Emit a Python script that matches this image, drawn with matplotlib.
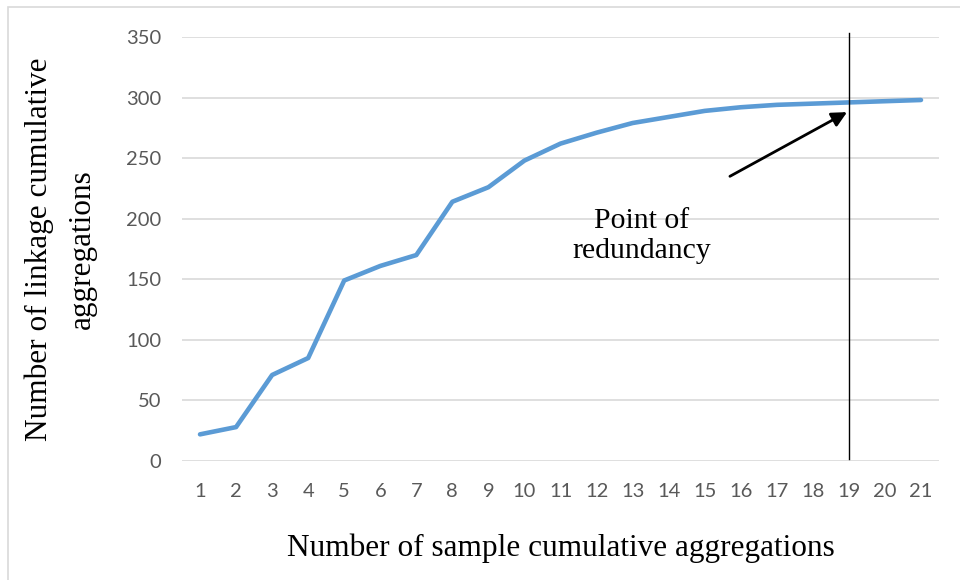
import matplotlib
matplotlib.use("Agg")
import matplotlib.pyplot as plt
from matplotlib.patches import Rectangle

categories = list(range(1, 22))
values = [22, 28, 71, 85, 149, 161, 170, 214, 226, 248, 262, 271, 279, 284, 289, 292, 294, 295, 296, 297, 298]
y_ticks = [0, 50, 100, 150, 200, 250, 300, 350]
redundancy_x = 19
annotation_text = "Point of\nredundancy"
x_label = "Number of sample cumulative aggregations"
y_label = "Number of linkage cumulative\naggregations"

W, H = 960, 580
fig = plt.figure(figsize=(W / 100, H / 100), dpi=100)
ax = fig.add_axes([182 / W, 1 - 461 / H, (939 - 182) / W, (461 - 37) / H])

# outer frame (left & top visible)
fig.patches.append(Rectangle((8 / W, -0.5), 2.0, 1.5 - 7 / H, transform=fig.transFigure,
                             fill=False, edgecolor="#D9D9D9", linewidth=1.2))

ax.plot(categories, values, color="#5B9BD5", linewidth=3.3, solid_capstyle="round",
        solid_joinstyle="round", zorder=3)

ax.set_xlim(0.5, 21.5)
ax.set_ylim(0, 350)
ax.set_yticks(y_ticks)
ax.set_xticks(categories)
ax.set_xticklabels([str(c) for c in categories])
ax.grid(axis="y", color="#D9D9D9", linewidth=1.2)
ax.set_axisbelow(True)
for s in ax.spines.values():
    s.set_visible(False)
ax.tick_params(length=0, labelsize=14.5, labelcolor="#595959", pad=0)
for lbl in ax.get_xticklabels() + ax.get_yticklabels():
    lbl.set_family("Lato")
ax.tick_params(axis="x", pad=16)
ax.tick_params(axis="y", pad=15)

ax.set_xlabel(x_label, fontfamily="Liberation Serif", fontsize=22.5, labelpad=24)
ax.yaxis.set_label_coords(-(182 - 61) / (939 - 182), 0.5)
ax.set_ylabel(y_label, fontfamily="Liberation Serif", fontsize=22.5,
              linespacing=1.62, va="center")

# vertical redundancy line
ax.plot([redundancy_x, redundancy_x], [2, 353], color="black", linewidth=1.0,
        clip_on=False, zorder=4)

# arrow and text
ax.annotate("", xy=(redundancy_x - 0.05, values[redundancy_x - 1] - 8),
            xytext=(15.7, 235),
            arrowprops=dict(arrowstyle="-|>,head_length=0.9,head_width=0.45",
                            color="black", linewidth=2, shrinkA=0, shrinkB=0),
            zorder=5)
ax.text(13.26, 186, annotation_text, ha="center", va="center",
        fontfamily="Liberation Serif", fontsize=21.4, linespacing=1.2)

fig.savefig("out.png", dpi=100)
